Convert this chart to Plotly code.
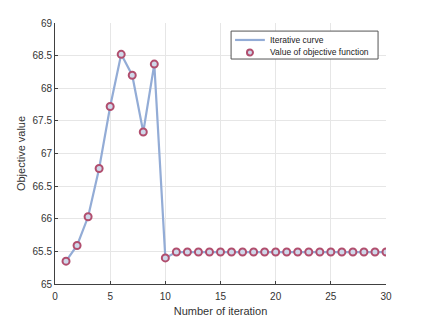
import plotly.graph_objects as go

# iteration numbers and objective values
iterations = list(range(1, 31))
objective = [65.35, 65.59, 66.03, 66.77, 67.72, 68.52, 68.20, 67.33, 68.37, 65.40] + [65.49] * 20

x_ticks = [0, 5, 10, 15, 20, 25, 30]
y_ticks = [65, 65.5, 66, 66.5, 67, 67.5, 68, 68.5, 69]
y_labels = ["65", "65.5", "66", "66.5", "67", "67.5", "68", "68.5", "69"]
legend_names = ["Iterative curve", "Value of objective function"]

line_color = "#93acd6"
edge_color = "#b14e6e"
fill_color = "#cfd8ea"

fig = go.Figure()
fig.add_trace(go.Scatter(x=iterations, y=objective, mode="lines", name=legend_names[0],
                         line=dict(color=line_color, width=2.2), showlegend=False))
fig.add_trace(go.Scatter(x=iterations, y=objective, mode="markers", name=legend_names[1],
                         marker=dict(symbol="circle", size=7, color=fill_color,
                                     line=dict(color=edge_color, width=2)),
                         showlegend=False))

axis_common = dict(showgrid=True, gridcolor="#e6e6e6", gridwidth=1, showline=True,
                   linecolor="#404040", linewidth=1, ticks="inside", ticklen=3,
                   tickcolor="#404040", zeroline=False, mirror=False, automargin=False,
                   tickfont=dict(size=10, color="#333333"))

fig.update_xaxes(range=[0, 30], tickvals=x_ticks, ticklabelstandoff=3,
                 title=dict(text="Number of iteration", font=dict(size=11, color="#333333"), standoff=6),
                 **axis_common)
fig.update_yaxes(range=[65, 69], tickvals=y_ticks, ticktext=y_labels,
                 title=dict(text="Objective value", font=dict(size=11, color="#333333"), standoff=4),
                 **axis_common)

# compact MATLAB-style legend box
fig.add_shape(type="rect", xref="paper", yref="paper", x0=0.532, x1=0.976, y0=0.862, y1=0.969,
              line=dict(color="#555555", width=1), fillcolor="white", layer="above")
fig.add_shape(type="line", xref="paper", yref="paper", x0=0.544, x1=0.634, y0=0.935, y1=0.935,
              line=dict(color=line_color, width=2.2), layer="above")
fig.add_shape(type="circle", xref="paper", yref="paper", xsizemode="pixel", ysizemode="pixel",
              xanchor=0.589, yanchor=0.887, x0=-3, x1=3, y0=-3, y1=3,
              line=dict(color=edge_color, width=2), fillcolor=fill_color, layer="above")
for name, yy in zip(legend_names, [0.935, 0.887]):
    fig.add_annotation(x=0.644, y=yy, xref="paper", yref="paper", text=name, showarrow=False,
                       xanchor="left", yanchor="middle", font=dict(size=8.5, color="#222222"))

fig.update_layout(
    width=426, height=320,
    margin=dict(l=55, r=40, t=23, b=36),
    paper_bgcolor="white", plot_bgcolor="white",
    font=dict(family="Liberation Sans, Arial, sans-serif", color="#333333"),
    showlegend=False,
)

# drop the default page margin so the figure sits at the window's corner
fig.write_html("out.html", config={"displayModeBar": False},
               post_script="document.body.style.margin='0';")
